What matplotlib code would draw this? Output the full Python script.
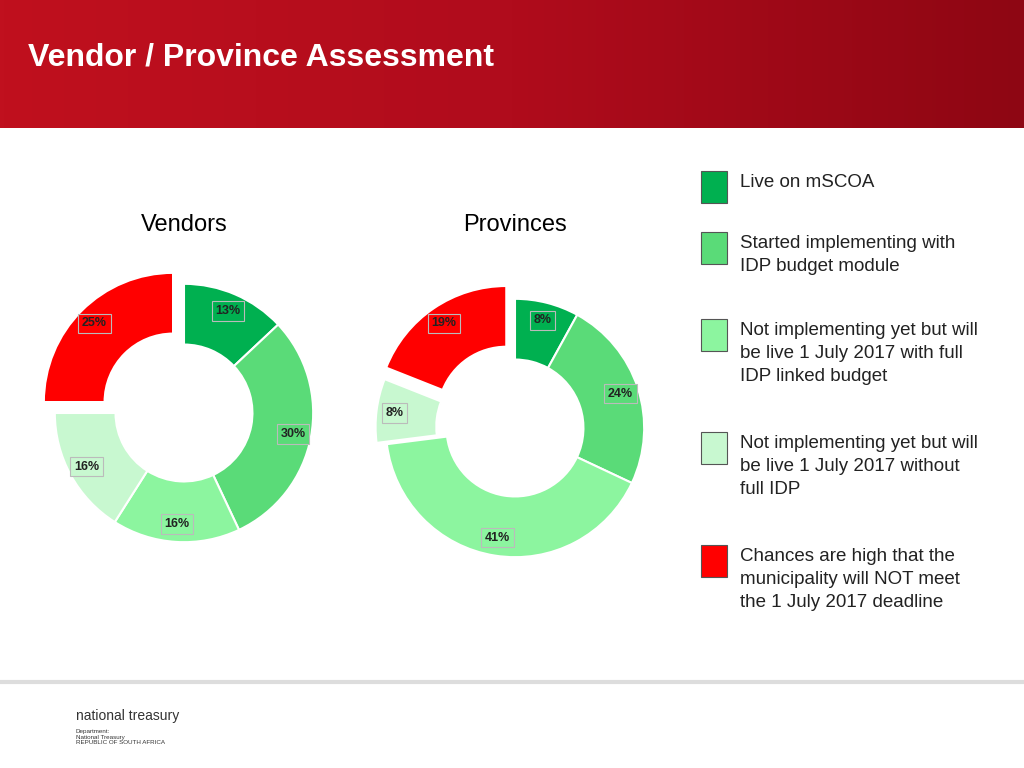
import matplotlib.pyplot as plt
import numpy as np
from matplotlib.patches import Rectangle

vendor_vals = [13, 30, 16, 16, 25]
province_vals = [8, 24, 41, 8, 19]
vendor_explode = [0, 0, 0, 0, 0.12]
province_explode = [0, 0, 0, 0.08, 0.12]
colors = ['#00B050', '#5ADB78', '#8CF59F', '#C8F8D0', '#FF0000']
legend_labels = ['Live on mSCOA',
                 'Started implementing with\nIDP budget module',
                 'Not implementing yet but will\nbe live 1 July 2017 with full\nIDP linked budget',
                 'Not implementing yet but will\nbe live 1 July 2017 without\nfull IDP',
                 'Chances are high that the\nmunicipality will NOT meet\nthe 1 July 2017 deadline']

fig = plt.figure(figsize=(10.24, 7.68), dpi=100)

# header band
hdr = fig.add_axes([0, 1 - 128/768, 1, 128/768])
grad = np.linspace(0, 1, 256).reshape(1, -1)
hdr.imshow(grad, aspect='auto', cmap=plt.matplotlib.colors.LinearSegmentedColormap.from_list(
    'r', ['#C0101E', '#B00C1C', '#8E0613']), extent=[0, 1, 0, 1])
hdr.axis('off')
fig.text(28/1024, 1 - 57/768, 'Vendor / Province Assessment', color='white',
         fontsize=23, fontweight='bold', va='center', family='Liberation Sans')

# footer line
fig.add_artist(plt.Line2D([0, 1], [1 - 682/768] * 2, color='#DDDDDD', lw=3))
fig.text(76/1024, 1 - 716/768, 'national treasury', fontsize=10, color='#333333',
         family='Liberation Sans', va='center')
fig.text(76/1024, 1 - 737/768, 'Department:\nNational Treasury\nREPUBLIC OF SOUTH AFRICA',
         fontsize=4.5, color='#333333', family='Liberation Sans', va='center')


def donut(cx, cy, vals, explode, title):
    size = 310
    ax = fig.add_axes([(cx - size/2)/1024, 1 - (cy + size/2)/768, size/1024, size/768])
    wedges, _ = ax.pie(vals, colors=colors, startangle=90, counterclock=False,
                       explode=explode, radius=1.0,
                       wedgeprops=dict(width=0.47, edgecolor='white', linewidth=1.5))
    for w, v in zip(wedges, vals):
        ang = np.deg2rad((w.theta1 + w.theta2) / 2)
        r = 0.86
        wx, wy = w.center
        ax.text(wx + r * np.cos(ang), wy + r * np.sin(ang), f'{v}%', ha='center', va='center',
                fontsize=9, fontweight='bold', color='#222222', family='Liberation Sans',
                bbox=dict(boxstyle='square,pad=0.3', fc=w.get_facecolor(), ec='#BBBBBB', lw=0.8))
    ax.set_xlim(-1.2, 1.2)
    ax.set_ylim(-1.2, 1.2)
    ax.set_aspect('equal')
    ax.axis('off')
    fig.text(cx / 1024, 1 - 225/768, title, fontsize=17, family='Liberation Sans',
             ha='center', va='center')


donut(184, 413, vendor_vals, vendor_explode, 'Vendors')
donut(515, 428, province_vals, province_explode, 'Provinces')

ys = [182, 243, 330, 443, 556]
for y, c, lab in zip(ys, colors, legend_labels):
    fig.add_artist(Rectangle((701/1024, 1 - (y + 21)/768), 26/1024, 32/768, fc=c,
                             ec='#555555', lw=0.8, transform=fig.transFigure))
    fig.text(740/1024, 1 - (y - 8)/768, lab, fontsize=13.5, va='top', linespacing=1.45,
             family='Liberation Sans', color='#222222')

fig.savefig('out.png', dpi=100)
